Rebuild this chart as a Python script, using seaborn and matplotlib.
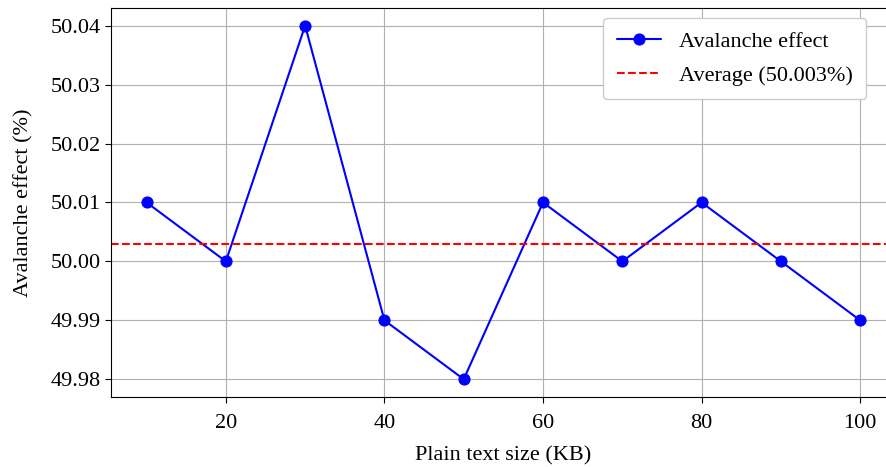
import numpy as np
import pandas as pd
import matplotlib
matplotlib.use('Agg')
import matplotlib.pyplot as plt
import seaborn as sns

# values
sizes_kb = [10, 20, 30, 40, 50, 60, 70, 80, 90, 100]
avalanche = [50.01, 50.00, 50.04, 49.99, 49.98, 50.01, 50.00, 50.01, 50.00, 49.99]
average = 50.003

df = pd.DataFrame({'size': sizes_kb, 'effect': avalanche})

sns.set_style('ticks')
plt.rcParams['font.family'] = ['Liberation Serif', 'DejaVu Serif']
plt.rcParams['font.size'] = 16
plt.rcParams['text.color'] = 'black'
plt.rcParams['axes.labelcolor'] = 'black'
plt.rcParams['xtick.color'] = 'black'
plt.rcParams['ytick.color'] = 'black'

fig, ax = plt.subplots(figsize=(8.87, 4.67), dpi=100)
sns.lineplot(data=df, x='size', y='effect', marker='o', color='blue',
             markersize=8, markeredgecolor='blue', linewidth=1.5,
             label='Avalanche effect', ax=ax)
ax.axhline(average, color='red', linestyle='--', linewidth=1.5,
           label='Average (50.003%)')

ax.set_xlabel('Plain text size (KB)', fontsize=16, labelpad=10)
ax.set_ylabel('Avalanche effect (%)', fontsize=16, labelpad=12)
ax.set_xticks([20, 40, 60, 80, 100])
ax.set_yticks([49.98, 49.99, 50.00, 50.01, 50.02, 50.03, 50.04])
ax.yaxis.set_major_formatter(matplotlib.ticker.FormatStrFormatter('%.2f'))
ax.set_xlim(5.5, 104.5)
ax.set_ylim(49.977, 50.043)
ax.tick_params(labelsize=16, length=4, width=0.8)
ax.tick_params(axis='x', pad=8)
ax.grid(True, color='#b0b0b0', linewidth=0.8)
for s in ax.spines.values():
    s.set_color('black')
    s.set_linewidth(0.8)
ax.legend(loc='upper right', fontsize=16, framealpha=1, borderaxespad=0,
          borderpad=0.6, labelspacing=0.6, bbox_to_anchor=(0.962, 0.974))

plt.subplots_adjust(left=0.125, right=1.01, top=0.983, bottom=0.15)
plt.savefig('out.png', dpi=100)
